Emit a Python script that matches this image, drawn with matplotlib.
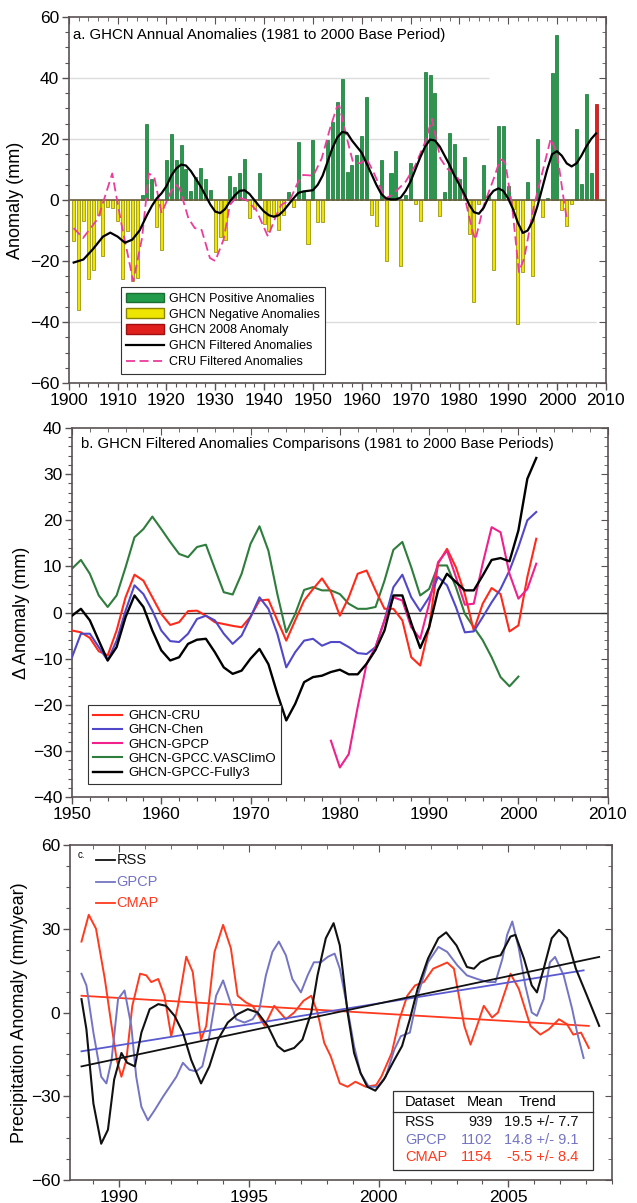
import matplotlib
matplotlib.use("Agg")
import matplotlib.pyplot as plt
from matplotlib.patches import Patch
from matplotlib.lines import Line2D
from matplotlib.ticker import MultipleLocator

plt.rcParams['font.family'] = ['Liberation Sans', 'DejaVu Sans']

# ---------------- Panel a data ----------------
years_a = list(range(1901, 2009))
anom_a = [-13.4, -36, -7, -26, -23, -5, -18.5, -2.2, -2.7, -7,
          -26, -10, -26.5, -25.5, 1.5, 25, 7, -8.7, -16.3, 13,
          21.5, 13, 18, 10, 3, 7.6, 10.5, 7, 3.3, -17,
          -12, -13, 8, 4.3, 8.7, 13.6, -5.8, -3, 8.7, -8,
          -10, -5, -9.8, -5, 2.7, -2.2, 19, 3, -14.5, 19.6,
          -7.3, -7.3, 19.6, 25.5, 32, 39.7, 9.2, 11.6, 14.7, 21,
          33.7, -4.9, -8.5, 13, -20, 8.7, 16, -21.7, 1.6, 12,
          -1.3, -7, 42, 41, 35, -5.4, 2.7, 22, 18.5, 7,
          14, -11, -33.5, -1.3, 11.4, 1.4, -23, 24.4, 24.3, 4.7,
          -3, -40.6, -23.7, 6, -24.8, 20, -5.7, 0.5, 41.7, 54,
          -3.2, -8.4, -1.2, 23.2, 5.2, 34.8, 9, 31.6]

ghcn_filt_x = [1901, 1903, 1905, 1907, 1908.5, 1910, 1911.5, 1913, 1914.5, 1916, 1917, 1918, 1919, 1920,
               1921, 1922, 1923, 1924, 1925, 1926, 1927, 1928, 1929, 1930, 1931, 1932, 1933, 1934,
               1935, 1936, 1937, 1938, 1939, 1940, 1941, 1942, 1943, 1944, 1945, 1946, 1947, 1948,
               1949, 1950, 1951, 1952, 1953, 1954, 1955, 1956, 1957, 1958, 1959, 1960, 1961, 1962,
               1963, 1964, 1965, 1966, 1967, 1968, 1969, 1970, 1971, 1972, 1973, 1974, 1975, 1976,
               1977, 1978, 1979, 1980, 1981, 1982, 1983, 1984, 1985, 1986, 1987, 1988, 1989, 1990,
               1991, 1992, 1993, 1994, 1995, 1996, 1997, 1998, 1999, 2000, 2001, 2002, 2003, 2004,
               2005, 2006, 2007, 2008]
ghcn_filt_y = [-20.5, -19.5, -16, -12, -10.7, -12, -14, -13, -10, -5, -2, 0.5, 2.2, 4.5,
               8, 10.3, 11.6, 11.3, 9.5, 7, 4.5, 1.5, -1.5, -3.8, -4.3, -3, -0.5, 1.5,
               3, 3.2, 2, 0, -2, -3.8, -5, -5.5, -5, -3.5, -1.5, 0.5, 2.3, 2.8,
               3, 3.2, 5, 8, 12.5, 17, 20.5, 22.3, 22, 19.5, 17.5, 15.5, 12, 8.5,
               5, 2, 0.5, 0.2, 0.2, 0.8, 3, 6, 10, 14, 17.5, 19.8, 19.5, 17.5,
               14.5, 11.5, 8, 5, 2, -1.5, -4, -4.5, -2.5, 1, 3, 3.8, 3, 0.5,
               -3, -7.5, -10.8, -10, -7, -2, 4, 10, 15, 16, 14.5, 12, 11, 12,
               14.5, 17.5, 20, 21.8]

cru_filt_x = [1901, 1902.9, 1906, 1908.9, 1910.8, 1913.2, 1915, 1916.4, 1917.5, 1919, 1920.9, 1922,
              1922.7, 1924.5, 1925.8, 1927.2, 1928.9, 1930, 1931.7, 1933, 1934.4, 1936.4, 1938.4,
              1940.8, 1942.5, 1943.5, 1945.3, 1947, 1948, 1950.1, 1951.8, 1953.5, 1954.9, 1955.4,
              1957, 1958.2, 1959.7, 1961, 1962.4, 1964.8, 1966.2, 1969, 1971, 1973, 1974.4, 1976.1,
              1977.5, 1979.6, 1981.3, 1982.7, 1983.3, 1985, 1987, 1988.4, 1989.4, 1990.8, 1992.2,
              1993.3, 1995.3, 1997, 1998.7, 2000, 2001.4, 2002]
cru_filt_y = [-9.2, -12.5, -6, 8.7, -8, -26.6, -12.5, 8.7, 7.6, -4.3, 2.7, 4.9,
              3.8, -6, -9.2, -9.8, -19, -20, -13, -1.6, 1, 0, -3.3,
              -12, -5, -1.6, 0, 6, 8.2, 8, 13.6, 23.4, 30.4, 31,
              20, 12.5, 12, 13.6, 9.2, 0.5, 1.6, 6, 11.4, 19, 26.6, 13.6,
              10.3, 7.6, -0.5, -10.3, -13, -1.8, 6.8, 13.4, 12.3, -1.8, -23.6,
              -19, -1.8, 9, 20, 15.5, 0, -6.2]

# ---------------- Panel b data ----------------
years_b = list(range(1950, 2003))
ghcn_cru = [-3.9, -4.3, -5.5, -8.4, -9.3, -3.9, 3.3, 8.2, 6.9, 3.3,
            -0.3, -2.7, -2.1, 0.3, 0.4, -0.7, -2.1, -2.5, -2.9, -3.2,
            -0.9, 2.6, 2.8, -1.7, -6.1, -1.7, 2.6, 5.1, 7.4, 4.5,
            -0.7, 3.3, 8.4, 9.1, 4.8, 0.8, 0.8, -1.7, -9.7, -11.5,
            -3.2, 10.6, 13.8, 9.8, 4, -3.9, 1.9, 5.3, 4, -4.1,
            -2.8, 7.7, 16]
ghcn_chen = [-9.7, -4.6, -4.6, -7.5, -10.4, -6.1, 0.4, 5.9, 4, 0.4,
             -3.9, -6.2, -6.4, -4.6, -1.4, -0.7, -1.7, -4.6, -6.8, -5,
             -1, 3.3, 0.8, -4.6, -11.9, -8.6, -6.1, -5.7, -7.2, -6.4,
             -6.4, -7.5, -8.8, -9, -7.5, -1.7, 5.5, 8.2, 3.3, 0.3,
             3.3, 7.7, 5.9, 1.2, -4.3, -4.1, -1, 2.2, 5.1, 9.1,
             14.2, 20, 21.8]
years_gpcp = list(range(1979, 2003))
ghcn_gpcp = [-27.8, -33.6, -30.7, -20.5, -11.1, -7.5, -1.7, 3.3, 2.6, -3.2,
             -5.7, 1.9, 10.9, 13.4, 7.7, 1.7, 1.9, 10.6, 18.5, 17.4,
             8.4, 3, 5.1, 10.6]
years_vas = list(range(1950, 2001))
ghcn_vasclimo = [9.5, 11.4, 8.4, 3.7, 1.2, 3.7, 9.8, 16.3, 18.1, 20.8,
                 18.1, 15.3, 12.7, 12, 14.2, 14.7, 9.5, 4.4, 3.9, 8.4,
                 14.9, 18.7, 13.4, 4, -4.3, -0.3, 4.9, 5.5, 4.8, 4.8,
                 4, 1.9, 0.8, 0.8, 1.2, 6.9, 13.6, 15.3, 9.8, 3.7,
                 5.1, 10.2, 10.2, 5.5, -0.3, -3.2, -6, -9.7, -14, -16,
                 -13.9]
ghcn_fully3 = [-0.7, 0.8, -1.7, -6.1, -10.4, -7.5, -1, 3.7, 1.2, -3.9,
               -8.2, -10.4, -9.7, -6.8, -5.9, -5.7, -8.6, -11.9, -13.3, -12.6,
               -10, -7.9, -11.2, -17.6, -23.4, -19.8, -15.1, -14, -13.7, -12.9,
               -12.4, -13.4, -13.4, -11.1, -8.1, -3.9, 3.7, 3.7, -2.3, -7.7,
               -3.2, 4.8, 8.4, 6.6, 4.8, 4.8, 8, 11.4, 11.8, 11.1,
               17.8, 29, 33.5]

# ---------------- Panel c data ----------------
rss_t = [1988.54, 1988.73, 1989.0, 1989.3, 1989.56, 1989.8, 1990.08, 1990.3, 1990.6, 1990.85,
         1991.17, 1991.5, 1991.8, 1992.13, 1992.45, 1992.77, 1993.15, 1993.47, 1993.8, 1994.18,
         1994.56, 1994.95, 1995.33, 1995.72, 1996.1, 1996.36, 1996.74, 1997.06, 1997.4, 1997.64,
         1997.96, 1998.26, 1998.5, 1998.8, 1999.05, 1999.3, 1999.56, 1999.87, 2000.2, 2000.6,
         2000.9, 2001.2, 2001.5, 2001.9, 2002.3, 2002.6, 2003.0, 2003.4, 2003.67, 2003.92,
         2004.3, 2004.7, 2005.08, 2005.27, 2005.6, 2005.9, 2006.1, 2006.36, 2006.67, 2006.95,
         2007.26, 2007.6, 2008.03, 2008.5]
rss_v = [4.8, -6, -32.6, -47, -42, -24, -14.5, -18, -19.3, -7.2,
         1.2, 3, 2.4, -1.2, -7.2, -17, -25.4, -19.3, -9.7, -3.6,
         -0.6, 1.2, 0, -4.8, -12, -13.9, -12.7, -9.7, 0, 13.3,
         26.6, 32, 24, 0, -14.5, -21.7, -26.6, -28, -24, -17,
         -12, -2.4, 8.5, 19.3, 26.6, 28.7, 24, 16.3, 15.7, 18,
         19.6, 20.5, 27.2, 27.8, 19.3, 9.7, 7.2, 15.7, 26.6, 29.6,
         26.6, 15.7, 6, -4.8]

gpcp_t = [1988.54, 1988.73, 1989.0, 1989.3, 1989.5, 1989.7, 1989.95, 1990.2, 1990.46, 1990.65,
          1990.85, 1991.1, 1991.36, 1991.68, 1991.94, 1992.2, 1992.45, 1992.7, 1992.96, 1993.2,
          1993.47, 1993.73, 1994.0, 1994.24, 1994.5, 1994.82, 1995.14, 1995.4, 1995.65, 1995.9,
          1996.15, 1996.42, 1996.67, 1997.0, 1997.26, 1997.5, 1997.77, 1998.05, 1998.3, 1998.5,
          1998.8, 1999.05, 1999.3, 1999.62, 1999.95, 2000.27, 2000.6, 2000.85, 2001.2, 2001.5,
          2001.9, 2002.3, 2002.64, 2003.03, 2003.4, 2003.8, 2004.2, 2004.5, 2004.77, 2004.95,
          2005.15, 2005.4, 2005.65, 2005.9, 2006.1, 2006.36, 2006.6, 2006.8, 2007.13, 2007.46,
          2007.65, 2007.9]
gpcp_v = [13.9, 9.7, -7.2, -23, -25.4, -17, 4.8, 7.9, -4.8, -23,
          -33.8, -38.6, -35, -30.2, -26.6, -23, -18, -20.5, -21.1, -19.3,
          -8.5, 6, 11.5, 4.8, -2.4, -3.6, -2.4, 1.2, 13.3, 21.7,
          25.4, 20.5, 12, 7.2, 13.3, 18, 18, 20, 21.1, 15.7,
          1.2, -12, -21.7, -26.6, -26.6, -23, -13.3, -8.5, -7.2, 6,
          18, 23.5, 21.7, 16.9, 13.3, 12, 10.9, 10.9, 19.3, 27.8,
          32.6, 23, 9.7, 0, -1.2, 4.8, 18, 19.9, 13.3, 1.2,
          -7.2, -16.3]

cmap_t = [1988.54, 1988.82, 1989.1, 1989.44, 1989.7, 1989.9, 1990.08, 1990.27, 1990.5, 1990.8,
          1991.04, 1991.23, 1991.5, 1991.74, 1992.0, 1992.26, 1992.58, 1992.83, 1993.03, 1993.15,
          1993.35, 1993.67, 1994.0, 1994.3, 1994.56, 1994.88, 1995.14, 1995.6, 1995.97, 1996.42,
          1996.74, 1997.1, 1997.4, 1997.64, 1997.9, 1998.15, 1998.5, 1998.8, 1999.1, 1999.5,
          1999.9, 2000.1, 2000.5, 2000.8, 2001.1, 2001.4, 2001.74, 2002.1, 2002.64, 2002.9,
          2003.3, 2003.54, 2003.79, 2004.05, 2004.37, 2004.6, 2004.95, 2005.08, 2005.4, 2005.85,
          2006.23, 2006.56, 2006.95, 2007.26, 2007.5, 2007.8, 2008.1]
cmap_v = [25.4, 35, 30, 12, -4.8, -17, -23, -17, 2.4, 13.9,
          13.3, 10.9, 12, 6, -8.5, 2.4, 20, 14.5, -1.2, -9.7,
          -4.8, 21.7, 31.4, 23, 6, 3.6, 2.4, -4.8, 2.4, -2.4,
          0, 4.2, 6, 0, -10.9, -15.7, -25.4, -26.6, -24.8, -26.6,
          -26, -23, -14.5, -2.4, 6, 9.7, 10.9, 15.7, 17.9, 15.7,
          -4.8, -11.5, -4.8, 2.4, -1.8, 0, 9.7, 13.9, 8.5, -4.8,
          -7.9, -6, -2.4, -4.2, -7.9, -7.2, -12.7]

trend_rss = ([1988.54, 2008.5], [-19.3, 19.9])
trend_gpcp = ([1988.54, 2007.9], [-13.9, 15.1])
trend_cmap = ([1988.54, 2008.1], [6.0, -4.8])

table_rows = [("RSS", "939", "19.5 +/- 7.7"),
              ("GPCP", "1102", "14.8 +/- 9.1"),
              ("CMAP", "1154", "-5.5 +/- 8.4")]

# ---------------- Styling ----------------
SPINE = '#5a5252'
GREEN = '#229c4a'
YELLOW = '#eee600'
RED_BAR = '#e0201c'
PINK = '#ec3c9c'

fig = plt.figure(figsize=(6.37, 12.03), dpi=100)


def style_axes(ax, xmaj, xmin, ymaj, ymin):
    for s in ax.spines.values():
        s.set_color(SPINE)
        s.set_linewidth(1.2)
    ax.xaxis.set_major_locator(MultipleLocator(xmaj))
    ax.xaxis.set_minor_locator(MultipleLocator(xmin))
    ax.yaxis.set_major_locator(MultipleLocator(ymaj))
    ax.yaxis.set_minor_locator(MultipleLocator(ymin))
    ax.tick_params(which='both', direction='out', color=SPINE, labelsize=12.5,
                   top=False, right=False, pad=2)
    ax.tick_params(which='major', length=5, width=1)
    ax.tick_params(which='minor', length=3, width=0.8)
    ax2 = ax.twinx()
    ax2.set_ylim(ax.get_ylim())
    ax2.yaxis.set_major_locator(MultipleLocator(ymaj))
    ax2.yaxis.set_minor_locator(MultipleLocator(ymin))
    ax2.tick_params(which='both', direction='in', color=SPINE, labelright=False)
    ax2.tick_params(which='major', length=5)
    ax2.tick_params(which='minor', length=3)
    ax3 = ax.twiny()
    ax3.set_xlim(ax.get_xlim())
    ax3.xaxis.set_major_locator(MultipleLocator(xmaj))
    ax3.xaxis.set_minor_locator(MultipleLocator(xmin))
    ax3.tick_params(which='both', direction='in', color=SPINE, labeltop=False)
    ax3.tick_params(which='major', length=5)
    ax3.tick_params(which='minor', length=3)
    for a in (ax2, ax3):
        for s in a.spines.values():
            s.set_visible(False)
    ax.set_zorder(5)
    ax.patch.set_visible(False)


# ---------------- Panel a ----------------
axa = fig.add_axes([0.108, 0.6816, 0.843, 0.3043])
axa.set_xlim(1900, 2010)
axa.set_ylim(-60, 60)
axa.hlines([40, 20], 1900, 1986, color='#dcdcdc', lw=1, zorder=0)
axa.hlines([-40], 1900, 2008, color='#dcdcdc', lw=1, zorder=0)
pos_x = [y for y, v in zip(years_a, anom_a) if v >= 0 and y != 2008]
pos_v = [v for y, v in zip(years_a, anom_a) if v >= 0 and y != 2008]
neg_x = [y for y, v in zip(years_a, anom_a) if v < 0]
neg_v = [v for y, v in zip(years_a, anom_a) if v < 0]
last_x = [y for y in years_a if y == 2008]
last_v = [v for y, v in zip(years_a, anom_a) if y == 2008]
axa.bar(pos_x, pos_v, width=0.62, color=GREEN, edgecolor='#1c6e34', linewidth=0.5, zorder=2)
axa.bar(neg_x, neg_v, width=0.62, color=YELLOW, edgecolor='#8a8400', linewidth=0.5, zorder=2)
axa.bar(last_x, last_v, width=0.62, color=RED_BAR, edgecolor='#a01010', linewidth=0.5, zorder=2)
axa.axhline(0, color='#6b5e3a', lw=1.2, zorder=3)
axa.plot(cru_filt_x, cru_filt_y, color=PINK, lw=1.3, dashes=(5, 2.5), zorder=4)
axa.plot(ghcn_filt_x, ghcn_filt_y, color='black', lw=1.6, zorder=4)
axa.set_ylabel('Anomaly (mm)', fontsize=13, labelpad=4)
axa.text(0.008, 0.97, 'a. GHCN Annual Anomalies (1981 to 2000 Base Period)',
         transform=axa.transAxes, fontsize=10.8, va='top', ha='left')
handles_a = [Patch(facecolor=GREEN, edgecolor='#1c6e34'),
             Patch(facecolor=YELLOW, edgecolor='#8a8400'),
             Patch(facecolor=RED_BAR, edgecolor='#a01010'),
             Line2D([], [], color='black', lw=1.6),
             Line2D([], [], color=PINK, lw=1.3, dashes=(5, 2.5))]
labels_a = ['GHCN Positive Anomalies', 'GHCN Negative Anomalies', 'GHCN 2008 Anomaly',
            'GHCN Filtered Anomalies', 'CRU Filtered Anomalies']
leg = axa.legend(handles_a, labels_a, loc='lower left', bbox_to_anchor=(0.085, 0.008),
                 fontsize=9, frameon=True, fancybox=False, handlelength=3.0, handleheight=0.8,
                 labelspacing=0.3, borderpad=0.45, handletextpad=0.4, framealpha=1)
leg.get_frame().set_edgecolor('#333333')
leg.get_frame().set_linewidth(0.8)
leg.set_zorder(10)
style_axes(axa, 10, 2, 20, 5)

# ---------------- Panel b ----------------
axb = fig.add_axes([0.113, 0.3375, 0.841, 0.3067])
axb.set_xlim(1950, 2010)
axb.set_ylim(-40, 40)
axb.axhline(0, color='#333333', lw=1, zorder=1)
axb.plot(years_vas, ghcn_vasclimo, color='#2e7d3c', lw=1.5, zorder=2)
axb.plot(years_b, ghcn_cru, color='#ff2a1a', lw=1.5, zorder=3)
axb.plot(years_b, ghcn_chen, color='#5048c8', lw=1.5, zorder=3)
axb.plot(years_gpcp, ghcn_gpcp, color='#f0208c', lw=1.5, zorder=3)
axb.plot(years_b, ghcn_fully3, color='black', lw=1.7, zorder=4)
axb.set_ylabel('\u0394 Anomaly (mm)', fontsize=13, labelpad=2)
axb.text(0.016, 0.975, 'b. GHCN Filtered Anomalies Comparisons (1981 to 2000 Base Periods)',
         transform=axb.transAxes, fontsize=10.7, va='top', ha='left')
handles_b = [Line2D([], [], color='#ff2a1a', lw=1.5),
             Line2D([], [], color='#5048c8', lw=1.5),
             Line2D([], [], color='#f0208c', lw=1.5),
             Line2D([], [], color='#2e7d3c', lw=1.5),
             Line2D([], [], color='black', lw=1.7)]
labels_b = ['GHCN-CRU', 'GHCN-Chen', 'GHCN-GPCP', 'GHCN-GPCC.VASClimO', 'GHCN-GPCC-Fully3']
legb = axb.legend(handles_b, labels_b, loc='lower left', bbox_to_anchor=(0.018, 0.018),
                  fontsize=9.5, frameon=True, fancybox=False, handlelength=2.2,
                  labelspacing=0.15, borderpad=0.35, handletextpad=0.5, framealpha=1)
legb.get_frame().set_edgecolor('#333333')
legb.get_frame().set_linewidth(0.8)
style_axes(axb, 10, 2, 10, 2)

# ---------------- Panel c ----------------
axc = fig.add_axes([0.110, 0.0191, 0.851, 0.2785])
axc.set_xlim(1988.1, 2009.0)
axc.set_ylim(-60, 60)
C_BLUE = '#7474c4'
C_RED = '#ff3a1e'
axc.plot(cmap_t, cmap_v, color=C_RED, lw=1.4, zorder=2)
axc.plot(gpcp_t, gpcp_v, color=C_BLUE, lw=1.4, zorder=3)
axc.plot(rss_t, rss_v, color='#111111', lw=1.5, zorder=4)
axc.plot(*trend_cmap, color=C_RED, lw=1.3, zorder=2)
axc.plot(*trend_gpcp, color='#5a5ad0', lw=1.3, zorder=3)
axc.plot(*trend_rss, color='#111111', lw=1.3, zorder=4)
axc.set_ylabel('Precipitation Anomaly (mm/year)', fontsize=13, labelpad=2)
axc.text(0.014, 0.985, 'c.', transform=axc.transAxes, fontsize=7, va='top', ha='left')
for i, (lab, col) in enumerate([('RSS', '#111111'), ('GPCP', C_BLUE), ('CMAP', C_RED)]):
    yy = 0.955 - i * 0.064
    axc.plot([0.048, 0.083], [yy, yy], transform=axc.transAxes, color=col, lw=1.3, zorder=6)
    axc.text(0.086, yy, lab, transform=axc.transAxes, color=col, fontsize=10.5,
             va='center', ha='left', zorder=6)

# table box
bx0, bx1, by0, by1 = 0.596, 0.965, 0.03, 0.266
axc.add_patch(plt.Rectangle((bx0, by0), bx1 - bx0, by1 - by0, transform=axc.transAxes,
                            facecolor='white', edgecolor='#333333', lw=0.9, zorder=7))
axc.plot([bx0, bx1], [0.203, 0.203], transform=axc.transAxes, color='#333333', lw=0.9, zorder=8)
hdr_y = 0.234
axc.text(0.618, hdr_y, 'Dataset', transform=axc.transAxes, fontsize=10.5, va='center', zorder=8)
axc.text(0.732, hdr_y, 'Mean', transform=axc.transAxes, fontsize=10.5, va='center', zorder=8)
axc.text(0.827, hdr_y, 'Trend', transform=axc.transAxes, fontsize=10.5, va='center', zorder=8)
row_cols = ['#111111', C_BLUE, C_RED]
for i, (row, col) in enumerate(zip(table_rows, row_cols)):
    yy = 0.172 - i * 0.052
    axc.text(0.618, yy, row[0], transform=axc.transAxes, fontsize=10.5, va='center',
             color=col, zorder=8)
    axc.text(0.779, yy, row[1], transform=axc.transAxes, fontsize=10.5, va='center',
             ha='right', color=col, zorder=8)
    axc.text(0.937, yy, row[2], transform=axc.transAxes, fontsize=10.5, va='center',
             ha='right', color=col, zorder=8)
style_axes(axc, 5, 1, 30, 7.5)
axc.set_xticks([1990, 1995, 2000, 2005])

fig.savefig('out.png', dpi=100)
